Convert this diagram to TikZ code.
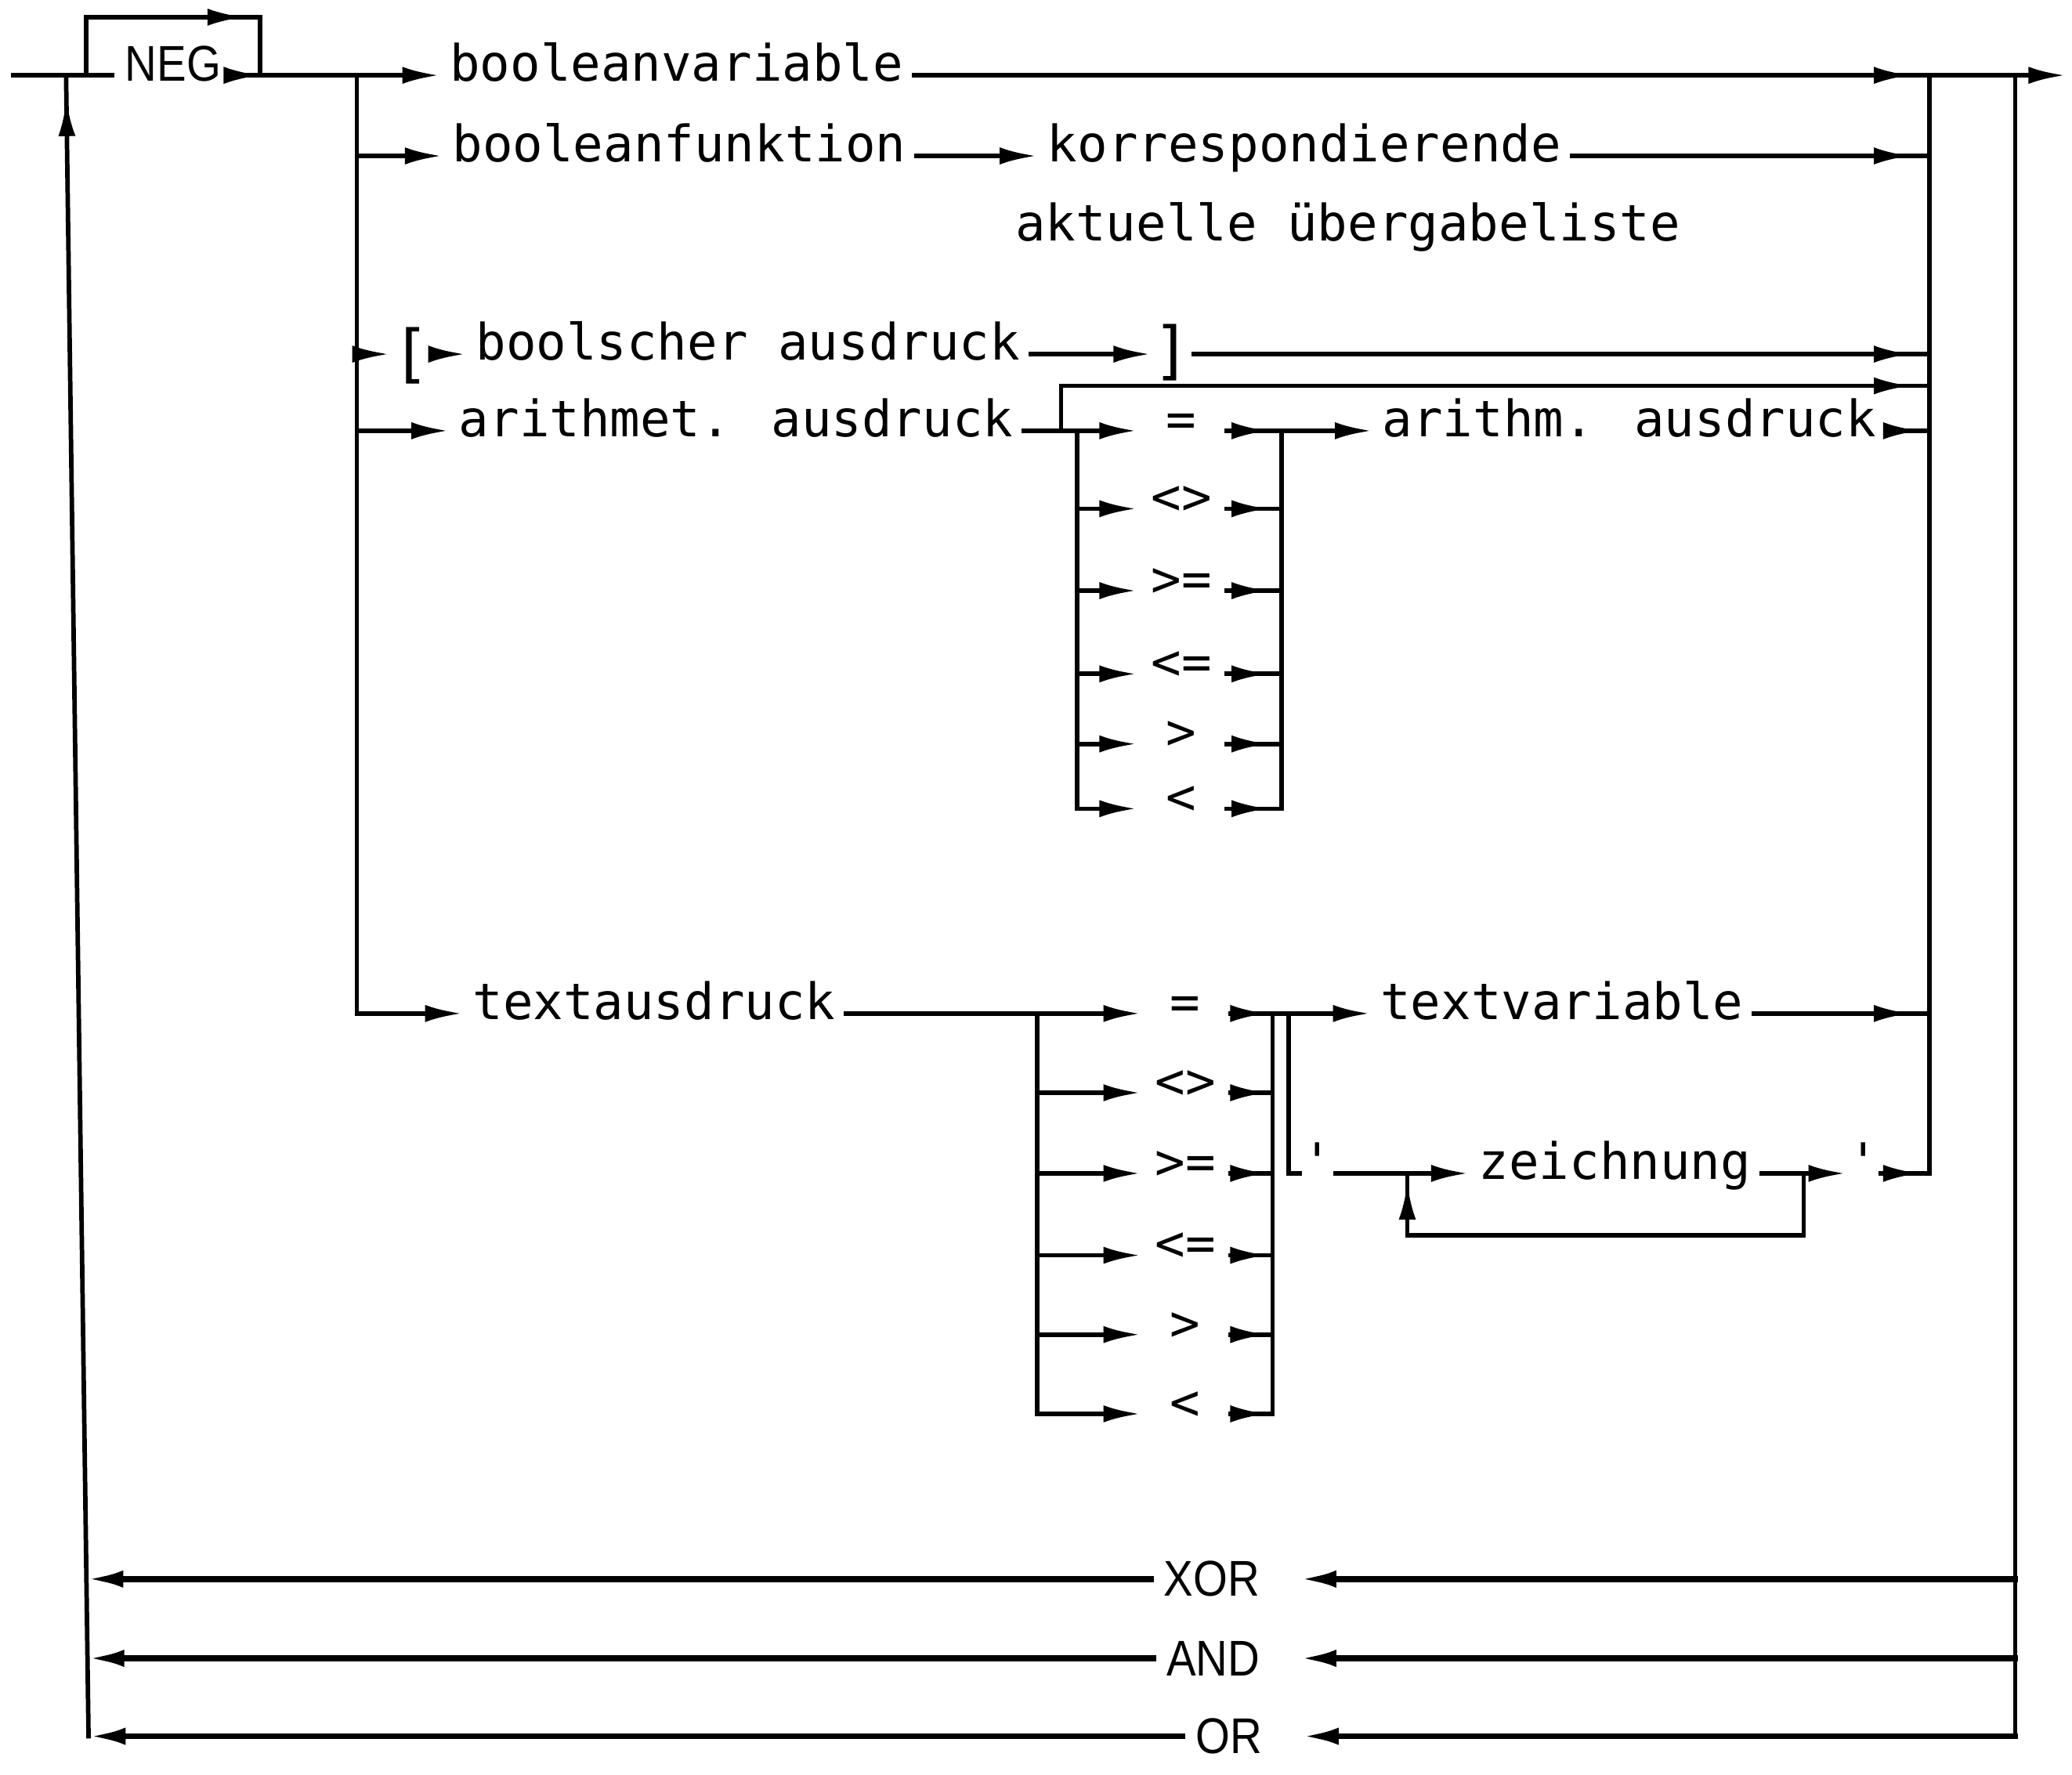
\documentclass[tikz,border=0pt]{standalone}
\usepackage{fontspec}
\usetikzlibrary{arrows.meta,decorations.markings}
\newfontfamily\plotfont{DejaVu Sans Mono}
\newfontfamily\keyfont[FakeStretch=0.88]{Liberation Sans}

\tikzset{
  ln/.style={line width=1.7pt,line cap=rect},
  ln2/.style={line width=2.2pt,line cap=rect},
  arr/.style={-{Latex[length=14pt,width=6.5pt]}},
  arrat/.style={postaction={decorate},decoration={markings,mark=at position #1 with {\arrow{Latex[length=14pt,width=6.5pt]}}}},
  word/.style={inner sep=0pt,outer sep=4pt,anchor=mid,font=\plotfont\fontsize{19}{22}\selectfont},
  op/.style={word,minimum width=26pt},
  apos/.style={word,outer sep=1pt},
  brack/.style={inner sep=0pt,outer sep=1pt,anchor=center,font=\plotfont\fontsize{24}{26}\selectfont},
  kw/.style={inner sep=0pt,outer sep=5pt,font=\keyfont\fontsize{19}{22}\selectfont},
}

\begin{document}
\begin{tikzpicture}[x=0.5pt,y=0.5pt,yscale=-1]
    \useasboundingbox (0,0) rectangle (1568,1343);
    % Coordinates
    \coordinate (start) at (10,57);
    \coordinate (lt) at (50,57);
    \coordinate (lb) at (67,1314);
    \coordinate (ja) at (65,57);
    \coordinate (negtop) at (131,13);
    \coordinate (jb) at (197,57);
    \coordinate (jm) at (270,57);
    \coordinate (r1) at (1460,57);
    \coordinate (r2) at (1525,57);
    \coordinate (out) at (1563,57);
    \coordinate (cl) at (803,326);
    \coordinate (ca) at (815,326);
    \coordinate (cb) at (970,326);
    \coordinate (loopr) at (1460,292);
    \coordinate (ta) at (785,767);
    \coordinate (tb) at (963,767);
    \coordinate (tc) at (975,767);
    \coordinate (zl) at (1065,888);
    \coordinate (zr) at (1365,888);
    \coordinate (zb) at (1215,935);
    \coordinate (xl) at (65.3,1195);
    \coordinate (al) at (66.1,1255);

    % Text Node
    \node[kw,anchor=mid] (neg) at (131,57) {NEG};
    % Text Node
    \node[word] (bv) at (512,57) {booleanvariable};
    % Text Node
    \node[word] (bf) at (514,118) {booleanfunktion};
    % Text Node
    \node[word] (kor) at (987,118) {korrespondierende};
    % Text Node
    \node[word] (akt) at (1020,178) {aktuelle übergabeliste};
    % Text Node
    \node[brack] (lbr) at (311,269) {[};
    % Text Node
    \node[word] (bool) at (566,268) {boolscher ausdruck};
    % Text Node
    \node[brack] (rbr) at (887,267) {]};
    % Text Node
    \node[word] (ari) at (557,326) {arithmet. ausdruck};
    % Text Node
    \node[word] (arm) at (1233,326) {arithm. ausdruck};
    % Text Node
    \node[op] (a-eq) at (894,326) {=};
    \node[op] (a-ne) at (894,385) {<>};
    \node[op] (a-ge) at (894,447) {>=};
    \node[op] (a-le) at (894,510) {<=};
    \node[op] (a-gt) at (894,563) {>};
    \node[op] (a-lt) at (894,612) {<};
    % Text Node
    \node[word] (tx) at (495,767) {textausdruck};
    % Text Node
    \node[op] (t-eq) at (897,767) {=};
    \node[op] (t-ne) at (897,827) {<>};
    \node[op] (t-ge) at (897,888) {>=};
    \node[op] (t-le) at (897,950) {<=};
    \node[op] (t-gt) at (897,1010) {>};
    \node[op] (t-lt) at (897,1070) {<};
    % Text Node
    \node[word] (tv) at (1182,767) {textvariable};
    % Text Node
    \node[apos] (q1) at (997,888) {'};
    \node[word] (zei) at (1222,888) {zeichnung};
    \node[apos] (q2) at (1410,888) {'};
    % Text Node
    \node[kw] (kw-xor) at (917,1195) {XOR};
    \node[kw] (kw-and) at (918,1255) {AND};
    \node[kw] (kw-or) at (930,1314) {OR};

    %Straight Lines
    \draw[ln] (start) -- (neg.mid west);
    \draw[ln,arrat=-9pt] (lb) -- (lt);
    \draw[ln,arrat=82pt] (ja) |- (negtop) -| (jb);
    \draw[ln,arr,arrat=10pt] (neg.mid east) -- (bv.mid west);
    \draw[ln,arr] (jm) |- (tx.mid west);
    \draw[ln,arr] (jm |- bf.mid) -- (bf.mid west);
    \draw[ln,arr] (jm |- bool.mid) -- (lbr.west |- bool.mid);
    \draw[ln,arr] (jm |- ari.mid) -- (ari.mid west);
    \draw[ln,arr] (bf.mid east) -- (kor.mid west);
    \draw[ln,arr] (lbr.east |- bool.mid) -- (bool.mid west);
    \draw[ln,arr] (bool.mid east) -- (rbr.west |- bool.mid);
    %Straight Lines
    \draw[ln,arrat=-7pt] (bv.mid east) -- (r1);
    \draw[ln,arr] (r1) -- (out);
    \draw[ln,arrat=-7pt] (kor.mid east) -- (r1 |- kor.mid);
    \draw[ln,arrat=-7pt] (rbr.east |- bool.mid) -- (r1 |- bool.mid);
    \draw[ln,arrat=-7pt] (cl) |- (loopr);
    \draw[ln,arrat=-3.5pt] (arm.mid east) -- (r1 |- arm.mid);
    \draw[ln] (r1) -- (r1 |- q2.mid);
    \draw[ln] (r2) -- (r2 |- kw-or);
    %Straight Lines
    \draw[ln,arr] (ari.mid east) -- (a-eq.mid west);
    \draw[ln,arr] (ca |- a-ne.mid) -- (a-ne.mid west);
    \draw[ln,arr] (ca |- a-ge.mid) -- (a-ge.mid west);
    \draw[ln,arr] (ca |- a-le.mid) -- (a-le.mid west);
    \draw[ln,arr] (ca |- a-gt.mid) -- (a-gt.mid west);
    \draw[ln,arr] (ca) |- (a-lt.mid west);
    \draw[ln,arrat=-5pt] (a-eq.mid east) -- (cb);
    \draw[ln,arrat=-5pt] (a-ne.mid east) -- (cb |- a-ne.mid);
    \draw[ln,arrat=-5pt] (a-ge.mid east) -- (cb |- a-ge.mid);
    \draw[ln,arrat=-5pt] (a-le.mid east) -- (cb |- a-le.mid);
    \draw[ln,arrat=-5pt] (a-gt.mid east) -- (cb |- a-gt.mid);
    \draw[ln,arrat=16pt] (a-lt.mid east) -| (cb);
    \draw[ln,arr] (cb) -- (arm.mid west);
    %Straight Lines
    \draw[ln,arr] (tx.mid east) -- (t-eq.mid west);
    \draw[ln,arr] (ta |- t-ne.mid) -- (t-ne.mid west);
    \draw[ln,arr] (ta |- t-ge.mid) -- (t-ge.mid west);
    \draw[ln,arr] (ta |- t-le.mid) -- (t-le.mid west);
    \draw[ln,arr] (ta |- t-gt.mid) -- (t-gt.mid west);
    \draw[ln,arr] (ta) |- (t-lt.mid west);
    \draw[ln,arrat=-2pt] (t-eq.mid east) -- (tb);
    \draw[ln,arrat=-2pt] (t-ne.mid east) -- (tb |- t-ne.mid);
    \draw[ln,arrat=-2pt] (t-ge.mid east) -- (tb |- t-ge.mid);
    \draw[ln,arrat=-2pt] (t-le.mid east) -- (tb |- t-le.mid);
    \draw[ln,arrat=-2pt] (t-gt.mid east) -- (tb |- t-gt.mid);
    \draw[ln,arrat=14pt] (t-lt.mid east) -| (tb);
    \draw[ln,arr] (tb) -- (tv.mid west);
    \draw[ln,arrat=-7pt] (tv.mid east) -- (r1 |- tv.mid);
    \draw[ln] (tc) |- (q1.mid west);
    \draw[ln,arr] (q1.mid east) -- (zei.mid west);
    \draw[ln,arr] (zei.mid east) -- (q2.mid west);
    \draw[ln,arrat=-3.5pt] (q2.mid east) -- (r1 |- q2.mid);
    \draw[ln,arrat=-3.5pt] (zr) |- (zb) -| (zl);
    %Straight Lines
    \draw[ln2,arr,shorten >=10pt] (r2 |- kw-xor) -- (kw-xor);
    \draw[ln2,arr] (kw-xor) -- (xl);
    \draw[ln2,arr,shorten >=10pt] (r2 |- kw-and) -- (kw-and);
    \draw[ln2,arr] (kw-and) -- (al);
    \draw[ln2,arr,shorten >=10pt] (r2 |- kw-or) -- (kw-or);
    \draw[ln2,arr] (kw-or) -- (lb);
\end{tikzpicture}
\end{document}
